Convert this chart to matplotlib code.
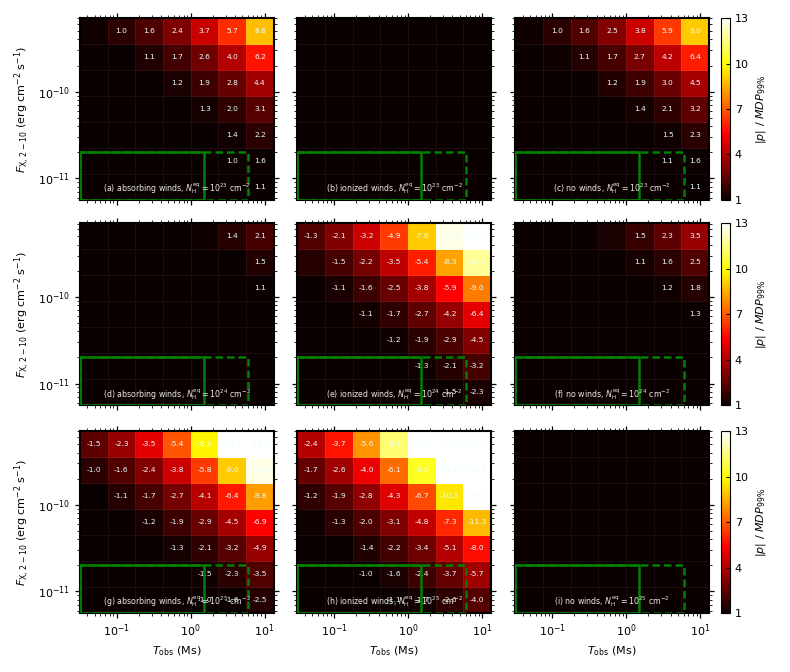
import numpy as np
import matplotlib
matplotlib.use("Agg")
import matplotlib.pyplot as plt
from matplotlib.patches import Rectangle

nan = np.nan

# ---------------- data ----------------
# grid cell edges
T_edges = [0.0316, 0.0750, 0.178, 0.422, 1.0, 2.37, 5.62, 13.3]          # Ms
F_edges = [5.62e-12, 1.12e-11, 2.24e-11, 4.47e-11, 8.91e-11, 1.78e-10,
           3.55e-10, 7.08e-10]                                              # erg/cm2/s
T_cut_solid = 1.5
T_cut_dashed = 6.0
F_cut = 2e-11

# values of p/MDP99 (rows listed from highest flux to lowest), nan = below 1
abs23 = [[nan, 1.0, 1.6, 2.4, 3.7, 5.7, 8.8],
         [nan, nan, 1.1, 1.7, 2.6, 4.0, 6.2],
         [nan, nan, nan, 1.2, 1.9, 2.8, 4.4],
         [nan, nan, nan, nan, 1.3, 2.0, 3.1],
         [nan, nan, nan, nan, nan, 1.4, 2.2],
         [nan, nan, nan, nan, nan, 1.0, 1.6],
         [nan, nan, nan, nan, nan, nan, 1.1]]
ion23 = [[nan] * 7 for _ in range(7)]
no23 = [[nan, 1.0, 1.6, 2.5, 3.8, 5.9, 9.0],
        [nan, nan, 1.1, 1.7, 2.7, 4.2, 6.4],
        [nan, nan, nan, 1.2, 1.9, 3.0, 4.5],
        [nan, nan, nan, nan, 1.4, 2.1, 3.2],
        [nan, nan, nan, nan, nan, 1.5, 2.3],
        [nan, nan, nan, nan, nan, 1.1, 1.6],
        [nan, nan, nan, nan, nan, nan, 1.1]]
abs24 = [[nan, nan, nan, nan, nan, 1.4, 2.1],
         [nan, nan, nan, nan, nan, nan, 1.5],
         [nan, nan, nan, nan, nan, nan, 1.1],
         [nan] * 7, [nan] * 7, [nan] * 7, [nan] * 7]
ion24 = [[-1.3, -2.1, -3.2, -4.9, -7.6, -11.7, -18.0],
         [nan, -1.5, -2.2, -3.5, -5.4, -8.3, -12.7],
         [nan, -1.1, -1.6, -2.5, -3.8, -5.9, -9.0],
         [nan, nan, -1.1, -1.7, -2.7, -4.2, -6.4],
         [nan, nan, nan, -1.2, -1.9, -2.9, -4.5],
         [nan, nan, nan, nan, -1.3, -2.1, -3.2],
         [nan, nan, nan, nan, nan, -1.5, -2.3]]
no24 = [[nan, nan, nan, nan, 1.5, 2.3, 3.5],
        [nan, nan, nan, nan, 1.1, 1.6, 2.5],
        [nan, nan, nan, nan, nan, 1.2, 1.8],
        [nan, nan, nan, nan, nan, nan, 1.3],
        [nan] * 7, [nan] * 7, [nan] * 7]
abs25 = [[-1.5, -2.3, -3.5, -5.4, -8.2, -12.7, -19.6],
         [-1.0, -1.6, -2.4, -3.8, -5.8, -9.0, -13.8],
         [nan, -1.1, -1.7, -2.7, -4.1, -6.4, -9.8],
         [nan, nan, -1.2, -1.9, -2.9, -4.5, -6.9],
         [nan, nan, nan, -1.3, -2.1, -3.2, -4.9],
         [nan, nan, nan, nan, -1.5, -2.3, -3.5],
         [nan, nan, nan, nan, -1.0, -1.6, -2.5]]
ion25 = [[-2.4, -3.7, -5.6, -8.7, -13.3, -20.6, -31.7],
         [-1.7, -2.6, -4.0, -6.1, -9.5, -14.6, -22.5],
         [-1.2, -1.9, -2.8, -4.3, -6.7, -10.3, -16.0],
         [nan, -1.3, -2.0, -3.1, -4.8, -7.3, -11.3],
         [nan, nan, -1.4, -2.2, -3.4, -5.1, -8.0],
         [nan, nan, -1.0, -1.6, -2.4, -3.7, -5.7],
         [nan, nan, nan, -1.1, -1.7, -2.6, -4.0]]
no25 = [[nan] * 7 for _ in range(7)]

grids = [[abs23, ion23, no23], [abs24, ion24, no24], [abs25, ion25, no25]]
wind_names = ["absorbing winds", "ionized winds", "no winds"]
nh_exps = ["23", "24", "25"]
letters = ["a", "b", "c", "d", "e", "f", "g", "h", "i"]
cbar_ticks = [1, 4, 7, 10, 13]

# ---------------- figure ----------------
fig = plt.figure(figsize=(7.9, 6.72), dpi=100)
col_left = [0.101, 0.376, 0.652]
row_bottom = [0.7024, 0.397, 0.0878]
w, h = 0.2456, 0.2708

Te = np.array(T_edges)
Fe = np.array(F_edges)
Tc = np.sqrt(Te[:-1] * Te[1:])
Fc = np.sqrt(Fe[:-1] * Fe[1:])

for r in range(3):
    mesh = None
    for c in range(3):
        ax = fig.add_axes([col_left[c], row_bottom[r], w, h])
        V = np.array(grids[r][c], dtype=float)[::-1]       # bottom row first
        C = np.nan_to_num(np.abs(V).T, nan=0.0)
        mesh = ax.pcolormesh(Te, Fe, C, cmap="hot", vmin=1, vmax=13,
                             shading="flat", edgecolors=(1, 1, 1, 0.06),
                             linewidth=0.4)
        ax.set_xscale("log")
        ax.set_yscale("log")
        ax.set_xlim(Te[0], Te[-1])
        ax.set_ylim(Fe[0], Fe[-1])
        for i in range(V.shape[0]):
            for j in range(V.shape[1]):
                if np.isfinite(V[i, j]):
                    ax.text(Tc[j], Fc[i], f"{V[i, j]:.1f}", ha="center",
                            va="center", fontsize=5.4, color="#e6ffff")
        ax.add_patch(Rectangle((Te[0], Fe[0]), T_cut_solid - Te[0],
                               F_cut - Fe[0], fill=False, ec="green",
                               lw=1.8, zorder=3))
        ax.add_patch(Rectangle((Te[0], Fe[0]), T_cut_dashed - Te[0],
                               F_cut - Fe[0], fill=False, ec="green",
                               lw=1.8, ls=(0, (3, 1.6)), zorder=3))
        k = r * 3 + c
        ax.text(0.5, 0.02,
                "(%s) %s, $N_{\\rm H}^{\\rm eq} = 10^{%s}$ cm$^{-2}$"
                % (letters[k], wind_names[c], nh_exps[r]),
                transform=ax.transAxes, ha="center", va="bottom",
                fontsize=5.7, color="#e8e8e8", zorder=4)
        ax.tick_params(which="both", direction="out", top=True, right=True,
                       labelsize=8)
        ax.tick_params(which="major", length=3.5, width=0.9)
        ax.tick_params(which="minor", length=2, width=0.6)
        for s in ax.spines.values():
            s.set_linewidth(1.5)
        if r < 2:
            ax.tick_params(labelbottom=False)
        else:
            ax.set_xlabel(r"$T_{\rm obs}$ (Ms)", fontsize=8)
        if c > 0:
            ax.tick_params(labelleft=False)
        else:
            ax.set_ylabel(r"$F_{\rm X,\,2-10}$ (erg cm$^{-2}$ s$^{-1}$)",
                          fontsize=8)
    cax = fig.add_axes([0.9127, row_bottom[r], 0.0114, h])
    cb = fig.colorbar(mesh, cax=cax, ticks=cbar_ticks)
    cb.set_label(r"$|p|$ / $MDP_{99\%}$", fontsize=8)
    cax.tick_params(direction="in", labelsize=8, length=3, width=0.8)
    cb.outline.set_linewidth(0.8)

fig.savefig("out.png", dpi=100)
